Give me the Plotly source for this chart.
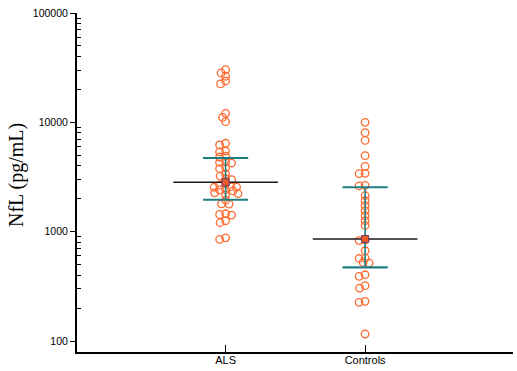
import math
import plotly.graph_objects as go

# ---- data ----
categories = ["ALS", "Controls"]
als_values = [30300, 28300, 26400, 23900, 22450,
              12100, 11100, 10150,
              6440, 6210,
              5470, 5360, 4900, 4820, 4340, 4300, 4250, 3850, 3770,
              3370, 3230, 3050, 2990, 2750,
              2660, 2560, 2550, 2580, 2420, 2410, 2360,
              2270, 2230, 2170,
              1940, 1800, 1790,
              1460, 1420, 1440,
              1260, 1210,
              880, 852]
ctrl_values = [10000, 8050, 6830, 4960, 3950, 3400, 3420, 2650, 2620,
               2140, 1920, 1730, 1556, 1400, 1260, 1140,
               840, 830,
               670, 574, 569, 523, 517,
               404, 391, 321, 305, 231, 226, 116]
center_values = [2830, 857]
ci_low = [1960, 472]
ci_high = [4720, 2550]
y_tick_values = [100, 1000, 10000, 100000]
y_tick_labels = ["100", "1000", "10000", "100000"]
minor_multipliers = [2, 3, 4, 5, 6, 7, 8, 9]

# ---- layout constants ----
W, H = 517, 371
ML, MR, MT, MB = 77, 4, 13, 19
XR = [-0.065, 3.06]
YR = [1.9, 5.0]
pw, ph = W - ML - MR, H - MT - MB
px_per_x = pw / (XR[1] - XR[0])
px_per_dec = ph / (YR[1] - YR[0])

ORANGE = "#FF6A30"
TEAL = "#1F7F80"


def swarm(vals, rx=6.0, ry=4.6):
    """Deterministic beeswarm offsets (in x units)."""
    order = sorted(range(len(vals)), key=lambda i: -vals[i])
    placed = []
    offs = [0.0] * len(vals)
    for i in order:
        y = math.log10(vals[i]) * px_per_dec
        cands = [0.0]
        for k in range(1, 60):
            cands += [-0.5 * k, 0.5 * k]
        for c in cands:
            ok = True
            for (px, py) in placed:
                if ((c - px) / rx) ** 2 + ((y - py) / ry) ** 2 < 1:
                    ok = False
                    break
            if ok:
                placed.append((c, y))
                offs[i] = c / px_per_x
                break
    return offs


fig = go.Figure()
for gi, vals in enumerate([als_values, ctrl_values]):
    offs = swarm(vals)
    fig.add_trace(go.Scatter(
        x=[gi + 1 + o for o in offs], y=vals, mode="markers",
        marker=dict(symbol="circle-open", size=7.5, color=ORANGE,
                    line=dict(width=1.3, color=ORANGE)),
        showlegend=False, hoverinfo="y"))

half_black = 0.375
half_teal = 0.162
for gi in range(2):
    xc = gi + 1
    fig.add_trace(go.Scatter(x=[xc - half_black, xc + half_black],
                             y=[center_values[gi]] * 2, mode="lines",
                             line=dict(color="#1a1a1a", width=1.6),
                             showlegend=False, hoverinfo="skip"))
    fig.add_trace(go.Scatter(x=[xc, xc], y=[ci_low[gi], ci_high[gi]], mode="lines",
                             line=dict(color=TEAL, width=1.6),
                             showlegend=False, hoverinfo="skip"))
    for v in (ci_low[gi], ci_high[gi]):
        fig.add_trace(go.Scatter(x=[xc - half_teal, xc + half_teal], y=[v, v],
                                 mode="lines", line=dict(color=TEAL, width=2.2),
                                 showlegend=False, hoverinfo="skip"))
fig.add_trace(go.Scatter(x=[1, 2], y=center_values, mode="markers",
                         marker=dict(symbol="square", size=7, color="#F05A24",
                                     line=dict(color="#6B3A70", width=1)),
                         showlegend=False, hoverinfo="y"))

minor_vals = [m * t for t in y_tick_values[:-1] for m in minor_multipliers]

fig.update_layout(
    width=W, height=H,
    margin=dict(l=ML, r=MR, t=MT, b=MB, pad=0),
    paper_bgcolor="white", plot_bgcolor="white",
    font=dict(family="Liberation Sans, Arial, sans-serif", size=11, color="black"),
    xaxis=dict(range=XR, tickvals=[1, 2], ticktext=categories, automargin=False,
               showline=True, linecolor="black", linewidth=1.6,
               ticks="inside", ticklen=7, tickcolor="black", tickwidth=1.2,
               ticklabelstandoff=-3, ticklabeloverflow="allow",
               showgrid=False, zeroline=False,
               tickfont=dict(size=11)),
    yaxis=dict(type="log", range=YR, tickvals=y_tick_values, ticktext=y_tick_labels,
               automargin=False, ticklabeloverflow="allow",
               showline=True, linecolor="black", linewidth=2,
               ticks="outside", ticklen=5, tickcolor="black", tickwidth=1.2,
               showgrid=False, zeroline=False, tickfont=dict(size=10.5),
               minor=dict(tickvals=minor_vals, ticks="inside", ticklen=4,
                          tickcolor="black", tickwidth=1, showgrid=False)),
    annotations=[dict(text="NfL (pg/mL)", xref="paper", yref="paper",
                      x=(16 - ML) / pw, y=(H - MB - 175) / ph,
                      xanchor="center", yanchor="middle", textangle=-90,
                      showarrow=False,
                      font=dict(family="Liberation Serif, Times New Roman, serif",
                                size=20, color="black"))],
)

fig.write_html("out.html", config={"displayModeBar": False},
               post_script="document.body.style.margin='0';document.body.style.padding='0';")
